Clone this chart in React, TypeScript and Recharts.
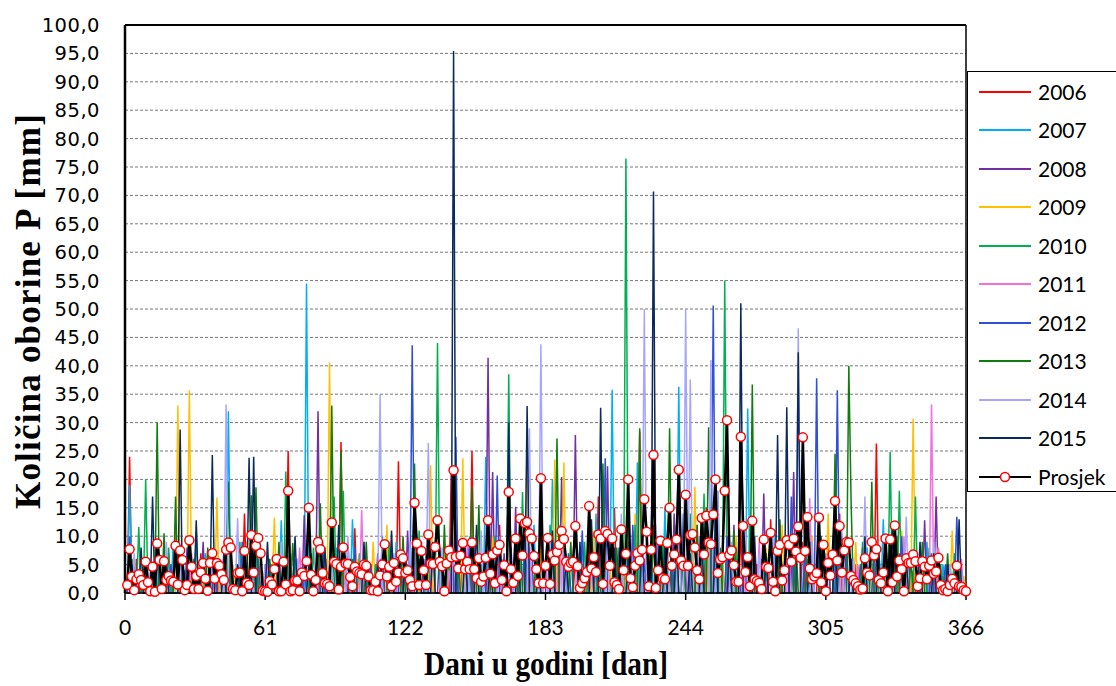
import React from 'react';
import { LineChart, Line, XAxis, YAxis, CartesianGrid, ReferenceLine } from 'recharts';

const xTicks = [0, 61, 122, 183, 244, 305, 366];
const yTicks = [0, 5, 10, 15, 20, 25, 30, 35, 40, 45, 50, 55, 60, 65, 70, 75, 80, 85, 90, 95, 100];

const years = ['2006', '2007', '2008', '2009', '2010', '2011', '2012', '2013', '2014', '2015'];
const colors = ['#FF0000', '#00B0F0', '#7030A0', '#FFC000', '#00B050', '#F36FE0', '#2E4FD6', '#107C10', '#A6A6FF', '#0B2A5C'];

// rainy days per year: [day, mm]; every other day is dry (0)
const p2006: [number, number][] = [[2,24],[5,6],[9,3],[17,8],[22,12],[28,4],[33,7],[40,5],[44,9],[52,14],[58,6],[63,3],[71,25],[77,4],[84,7],[94,26.6],[100,11.4],[106,5],[113,8],[119,23.2],[124,4],[129,9],[133,10],[142,22],[147,6],[151,25],[158,7],[163,12],[170,9],[175,5],[181,14],[188,8],[196,6],[202,10],[206,17],[213,15],[219,9],[224,28.4],[230,12],[236,6],[241,13],[247,8],[253,15],[257,10],[262,7],[268,11],[275,5],[281,13],[288,6],[295,9],[302,12],[306,8],[311,14],[318,5],[327,26.3],[331,10],[337,7],[343,4],[350,6],[356,3],[362,5]];
const p2007: [number, number][] = [[2,19],[8,4],[15,6],[21,9],[27,5],[35,7],[45,32],[50,5],[57,8],[62,4],[68,12.8],[74,6],[79,54.5],[86,5],[92,8],[99,13],[105,4],[112,6],[118,9],[125,8],[131,5],[138,7],[145,4],[150,10],[157,24],[164,6],[171,8],[178,12],[186,20],[192,7],[199,9],[205,14],[212,35.8],[218,6],[223,23],[229,9],[235,15],[241,36.3],[247,10],[252,12],[258,18],[264,8],[271,32.5],[277,6],[283,11],[290,9],[296,14],[303,7],[309,10],[316,5],[323,8],[330,13],[336,6],[342,4],[349,9],[356,5],[363,3]];
const p2008: [number, number][] = [[4,5],[11,3],[19,7],[26,4],[34,9],[41,6],[48,4],[55,8],[61,5],[66,3],[78,13.7],[84,32],[88,6],[97,9],[104,5],[110,7],[117,4],[123,11],[130,6],[137,8],[144,5],[152,9],[158,41.4],[160,21.3],[165,7],[170,15.2],[177,6],[184,10],[190,20.4],[196,27.8],[203,8],[210,22.3],[216,7],[222,12],[228,5],[234,9],[239,14],[245,6],[250,10],[259,7],[265,12],[271,5],[278,17.5],[284,8],[291,21.3],[297,10],[304,6],[310,9],[316,4],[322,7],[328,5],[335,8],[341,6],[348,12.8],[353,17],[359,5],[364,3]];
const p2009: [number, number][] = [[3,4],[10,6],[16,5],[23,33],[28,35.7],[33,6],[40,16.8],[47,5],[53,9],[59,4],[65,13.3],[72,7],[80,5],[89,40.6],[93,8],[101,6],[108,9],[114,12],[121,5],[127,7],[133,22.5],[139,8],[147,23.7],[153,6],[160,10],[166,4],[175,27],[181,8],[187,23.5],[191,23],[198,7],[204,11],[211,5],[217,9],[222,14],[227,6],[233,8],[240,12],[248,18.7],[254,9],[260,6],[266,10],[272,5],[279,8],[286,12],[292,7],[299,10],[306,14],[312,6],[318,9],[325,5],[332,7],[338,11],[343,30.7],[347,6],[354,8],[360,11],[365,3]];
const p2010: [number, number][] = [[6,11.6],[9,20],[13,6],[19,8],[25,5],[31,10],[37,6],[43,4],[50,9],[56,7],[63,5],[70,21.4],[75,6],[82,8],[91,17],[95,18],[102,7],[109,5],[115,9],[122,6],[128,11],[136,44],[141,6],[148,8],[155,5],[161,10],[167,38.5],[173,17.8],[179,7],[185,12],[193,6],[200,9],[206,5],[213,8],[218,76.5],[222,12],[228,7],[234,10],[240,6],[246,14],[252,17.5],[256,9],[261,55],[266,8],[272,12],[279,6],[285,9],[291,5],[297,11],[303,7],[310,13],[316,6],[321,9],[327,5],[333,24.8],[337,18],[344,17],[350,8],[355,5],[361,7]];
const p2011: [number, number][] = [[5,3],[12,5],[20,4],[29,7],[38,5],[46,9],[54,4],[62,6],[69,3],[76,8],[87,5],[96,4],[103,14.6],[111,6],[118,5],[126,8],[134,7],[141,4],[149,9],[156,6],[163,10],[169,5],[176,8],[183,6],[189,12],[197,7],[203,5],[209,9],[215,6],[221,11],[227,7],[232,5],[238,9],[244,6],[249,12],[255,8],[263,10],[269,6],[276,9],[282,5],[289,8],[298,16.7],[305,6],[313,9],[319,5],[326,7],[334,6],[339,10],[345,5],[351,33.2],[354,8],[358,4],[364,6]];
const p2012: [number, number][] = [[2,10],[7,4],[14,6],[20,5],[27,8],[32,4],[39,7],[46,5],[51,9],[58,6],[64,4],[72,7],[78,5],[86,9],[93,6],[100,8],[107,5],[112,10],[120,6],[125,43.6],[131,7],[138,5],[144,27.5],[150,9],[156,6],[162,20.7],[168,8],[174,12],[180,5],[186,9],[193,7],[199,11],[205,6],[209,23.7],[215,8],[221,12],[226,6],[232,9],[238,7],[243,14],[249,8],[256,50.6],[262,10],[267,6],[273,9],[279,7],[285,12],[290,17],[296,8],[301,37.8],[306,6],[310,35.7],[314,9],[320,5],[326,8],[332,6],[338,10],[345,4],[351,7],[357,5],[362,13.4]];
const p2013: [number, number][] = [[3,6],[8,5],[14,30],[17,10.5],[22,17],[30,6],[36,8],[45,19.6],[49,5],[55,17.2],[57,18.6],[63,6],[67,9],[73,8.8],[81,7],[85,15.8],[90,33],[94,25],[99,6],[105,9],[110,5],[116,8],[121,10],[126,22.8],[132,7],[139,12],[145,6],[151,18.7],[154,15.5],[160,8],[166,5],[172,10],[179,7],[188,27.2],[194,9],[201,6],[208,22.8],[214,8],[224,29],[230,10],[237,29],[243,7],[249,12],[254,29.2],[259,8],[265,11],[273,36.7],[279,7],[285,13],[292,9],[297,6],[303,10],[309,24.5],[315,40],[316,16],[321,8],[325,19.6],[331,7],[336,10],[342,6],[347,9],[352,5],[358,7],[363,4]];
const p2014: [number, number][] = [[4,7],[10,5],[18,9],[24,6],[31,4],[38,8],[44,33.2],[49,13.2],[55,7],[61,5],[68,9],[75,6],[83,8],[90,5],[97,10],[104,6],[111,35],[117,7],[124,9],[132,26.4],[138,8],[143,8],[149,6],[155,11],[161,7],[168,5],[176,29],[181,43.8],[185,9],[191,12],[197,6],[203,10],[210,8],[216,14],[220,7],[226,50],[231,12],[236,8],[241,15],[244,50],[246,37.6],[250,10],[255,41],[258,18],[264,9],[270,12],[276,7],[282,10],[288,6],[293,46.6],[299,9],[305,7],[312,11],[317,6],[322,17],[328,8],[334,5],[340,13.4],[346,7],[352,9],[359,5],[364,4]];
const p2015: [number, number][] = [[3,5],[7,8],[12,17],[18,6],[24,28.8],[31,12.8],[38,24.3],[43,7],[49,5],[54,23.8],[56,24],[62,9],[67,6],[74,10],[80,5],[87,8],[93,12],[98,6],[104,9],[110,5],[116,11],[122,7],[128,6],[134,9],[143,95.4],[148,8],[153,12],[159,6],[167,30],[171,9],[175,32.9],[180,7],[186,11],[192,6],[198,9],[203,13],[207,32.6],[213,8],[219,6],[225,10],[230,70.7],[235,9],[240,12],[246,7],[251,10],[257,14],[263,8],[268,51],[274,10],[279,6],[284,27.8],[288,32.7],[293,42.4],[298,9],[304,7],[309,11],[316,6],[322,10],[328,8],[334,12],[340,6],[346,9],[352,7],[358,5],[363,13]];

// daily average, days 1..366
const prosjek = [
  1.4, 7.7, 2.9, 0.5, 2.4, 3.3, 2.3, 1.4, 5.5, 1.9,
  0.3, 4.6, 0.2, 8.7, 5.8, 0.7, 5.6, 2.3, 3.0, 2.2,
  2.0, 8.3, 1.5, 7.5, 5.8, 0.5, 1.4, 9.3, 4.6, 0.7,
  3.0, 0.7, 3.6, 5.3, 2.5, 0.4, 5.3, 7.0, 2.5, 5.3,
  4.8, 3.3, 2.3, 7.6, 8.9, 8.0, 0.7, 0.5, 3.5, 3.6,
  0.3, 7.4, 1.8, 1.4, 10.2, 3.6, 8.3, 9.7, 7.0, 0.4,
  0.3, 0.2, 2.1, 1.5, 4.2, 6.0, 0.3, 0.3, 5.5, 1.5,
  18.0, 0.3, 0.5, 2.2, 2.2, 0.3, 3.6, 3.0, 5.6, 15.0,
  3.2, 0.3, 2.3, 9.0, 7.7, 3.5, 1.7, 1.6, 1.2, 12.4,
  5.5, 5.1, 0.6, 4.6, 8.0, 5.2, 5.1, 2.8, 1.2, 4.6,
  3.8, 3.5, 3.3, 5.0, 4.8, 2.9, 0.5, 0.5, 2.0, 0.3,
  3.1, 5.0, 8.6, 2.9, 4.6, 1.2, 5.3, 2.0, 3.6, 6.8,
  6.1, 3.5, 4.0, 2.3, 1.2, 15.9, 8.7, 1.4, 7.4, 4.0,
  1.4, 10.3, 5.2, 5.1, 8.1, 12.8, 5.5, 4.7, 0.3, 5.2,
  7.5, 6.3, 21.6, 6.4, 4.3, 6.6, 8.8, 4.2, 5.5, 4.2,
  8.9, 4.2, 2.6, 6.1, 2.0, 2.9, 6.2, 12.8, 3.4, 6.8,
  1.7, 7.5, 8.5, 2.3, 4.9, 0.3, 17.8, 4.2, 1.8, 9.6,
  3.0, 13.1, 6.6, 12.3, 12.5, 10.5, 9.6, 6.5, 4.2, 1.7,
  20.2, 1.7, 4.8, 9.7, 1.6, 6.8, 5.7, 7.2, 8.5, 10.9,
  9.5, 5.5, 4.6, 5.3, 5.5, 11.8, 4.7, 0.9, 1.7, 2.6,
  3.7, 15.3, 4.3, 6.3, 3.7, 10.3, 9.6, 1.6, 10.9, 10.4,
  4.8, 9.6, 1.9, 1.4, 0.7, 11.2, 4.0, 6.9, 20.0, 2.6,
  1.0, 4.8, 7.0, 5.7, 7.6, 16.5, 10.8, 1.2, 7.6, 24.3,
  0.9, 4.0, 9.2, 2.6, 2.4, 8.8, 15.0, 4.8, 6.8, 9.4,
  21.7, 5.7, 4.8, 17.3, 4.8, 10.2, 10.4, 8.0, 4.0, 2.4,
  13.2, 6.8, 13.6, 8.9, 8.6, 13.8, 20.0, 3.5, 5.9, 6.3,
  18.0, 30.4, 6.7, 7.5, 4.9, 2.0, 2.0, 27.5, 11.8, 3.7,
  6.3, 1.2, 12.7, 2.4, 2.1, 1.8, 0.7, 9.4, 4.6, 4.4,
  10.6, 2.0, 0.3, 7.4, 8.5, 2.2, 4.0, 9.3, 8.5, 5.5,
  9.6, 7.3, 11.7, 6.2, 27.4, 7.4, 13.4, 4.3, 2.4, 2.9,
  3.5, 13.3, 1.9, 8.5, 0.3, 5.3, 3.1, 6.8, 16.2, 5.7,
  11.8, 3.6, 7.5, 9.0, 8.9, 3.0, 2.3, 1.7, 1.2, 0.6,
  0.8, 6.1, 3.6, 3.1, 9.0, 6.6, 7.7, 2.3, 1.7, 3.6,
  9.6, 0.3, 9.4, 1.9, 11.9, 2.9, 5.7, 4.2, 0.3, 6.1,
  5.3, 5.3, 6.8, 5.6, 1.2, 2.6, 5.6, 4.6, 2.4, 4.8,
  5.7, 3.4, 3.8, 6.2, 1.4, 0.5, 0.7, 0.3, 1.4, 2.5,
  1.7, 4.8, 1.2, 1.1, 0.5, 0.3,
];

const peaks = [p2006, p2007, p2008, p2009, p2010, p2011, p2012, p2013, p2014, p2015];

const rows = prosjek.map((avg, i) => {
  const day = i + 1;
  const row: any = { day, avg };
  years.forEach((y, k) => {
    const hit = peaks[k].find((p) => p[0] === day);
    row['y' + y] = hit ? hit[1] : 0;
  });
  return row;
});

const fmt = (v: number) => v.toFixed(1).replace('.', ',');

const Legend = () => (
  <div
    style={{
      position: 'absolute', left: 967, top: 71, width: 170, height: 421,
      border: '1.5px solid #000', background: '#fff', boxSizing: 'border-box',
    }}
  >
    {years.concat(['Prosjek']).map((name, i) => {
      const isAvg = name === 'Prosjek';
      return (
        <div key={name} style={{ position: 'absolute', left: 0, top: 19.5 + i * 38.5 - 14, height: 28, width: 170 }}>
          <svg width={70} height={28} style={{ position: 'absolute', left: 0, top: 0 }}>
            <line x1={11} x2={63} y1={14} y2={14} stroke={isAvg ? '#000' : colors[i]} strokeWidth={isAvg ? 2 : 1.8} />
            {isAvg && <circle cx={37} cy={14} r={4.5} fill="#fff" stroke="#FF0000" strokeWidth={1.5} />}
          </svg>
          <span style={{ position: 'absolute', left: 70, top: 0, lineHeight: '28px', fontFamily: 'Lato', fontSize: 21, color: '#000' }}>
            {name}
          </span>
        </div>
      );
    })}
  </div>
);

export default function App() {
  return (
    <div style={{ position: 'absolute', left: 0, top: 0, width: 1116, height: 686, overflow: 'hidden', background: '#fff' }}>
      <LineChart width={1116} height={686} data={rows} margin={{ top: 25, right: 150, left: 55, bottom: 43 }}>
        <CartesianGrid horizontal vertical={false} stroke="#777" strokeDasharray="3 2" />
        <XAxis
          dataKey="day" type="number" domain={[0, 366]} ticks={xTicks} interval={0}
          height={50} tickSize={7} tickMargin={20}
          axisLine={{ stroke: '#000', strokeWidth: 1.5 }} tickLine={{ stroke: '#000', strokeWidth: 1.5 }}
          tick={{ fill: '#000', fontFamily: 'Lato', fontSize: 21 }}
        />
        <YAxis
          type="number" domain={[0, 100]} ticks={yTicks} interval={0} width={70}
          tickFormatter={fmt} tickLine={false} tickSize={0} tickMargin={25}
          axisLine={{ stroke: '#000', strokeWidth: 2.5 }}
          tick={{ fill: '#000', fontFamily: 'DejaVu Sans', fontSize: 19.5, letterSpacing: 0.5 }}
        />
        <ReferenceLine y={100} stroke="#000" strokeWidth={2} />
        <ReferenceLine x={366} stroke="#000" strokeWidth={1.5} />
        {years.map((y, i) => (
          <Line
            key={y} type="linear" dataKey={'y' + y} stroke={colors[i]} strokeWidth={1.5}
            dot={false} activeDot={false} isAnimationActive={false}
          />
        ))}
        <Line
          type="linear" dataKey="avg" stroke="#000" strokeWidth={2.5}
          dot={{ r: 4.5, fill: '#fff', stroke: '#FF0000', strokeWidth: 1.5 }}
          activeDot={false} isAnimationActive={false}
        />
      </LineChart>
      <Legend />
      <div
        style={{
          position: 'absolute', left: 29, top: 311, transform: 'translate(-50%, -50%) rotate(-90deg)',
          whiteSpace: 'nowrap', fontFamily: 'Liberation Serif', fontWeight: 'bold', fontSize: 35, letterSpacing: 1.2, color: '#000',
        }}
      >
        Količina oborine P [mm]
      </div>
      <div
        style={{
          position: 'absolute', left: 546, top: 664, transform: 'translate(-50%, -50%) scaleX(0.89)',
          whiteSpace: 'nowrap', fontFamily: 'Liberation Serif', fontWeight: 'bold', fontSize: 33, color: '#000',
        }}
      >
        Dani u godini [dan]
      </div>
    </div>
  );
}
